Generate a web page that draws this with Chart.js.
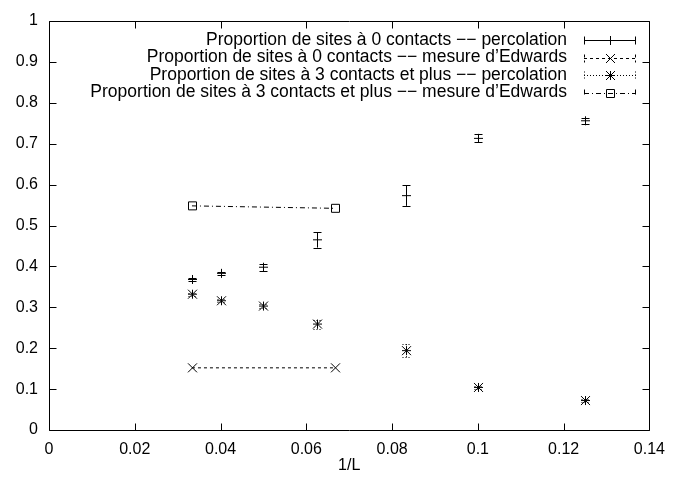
<!DOCTYPE html>
<html>
<head>
<meta charset="utf-8">
<script src="https://cdn.jsdelivr.net/npm/chart.js@4/dist/chart.umd.min.js"></script>
<style>
html,body{margin:0;padding:0;background:#fff;}
</style>
</head>
<body>
<canvas id="chart" width="675" height="481"></canvas>
<script>
// 1/L values
var xL = [1/30, 1/25, 1/20, 1/16, 1/12, 1/10, 1/8];
var perc0 = [0.368, 0.383, 0.398, 0.465, 0.573, 0.713, 0.756];
var perc0Err = [0.004, 0.004, 0.009, 0.019, 0.025, 0.010, 0.008];
var perc3 = [0.332, 0.316, 0.303, 0.259, 0.194, 0.104, 0.072];
var perc3Err = [0.004, 0.004, 0.004, 0.011, 0.016, 0.004, 0.004];
var edwX = [1/30, 1/15];
var edw0 = [0.152, 0.152];
var edw3 = [0.548, 0.542];
var xTicks = [0, 0.02, 0.04, 0.06, 0.08, 0.1, 0.12, 0.14];
var yTicks = [0, 0.1, 0.2, 0.3, 0.4, 0.5, 0.6, 0.7, 0.8, 0.9, 1];
var labels = [
  "Proportion de sites à 0 contacts −− percolation",
  "Proportion de sites à 0 contacts −− mesure d’Edwards",
  "Proportion de sites à 3 contacts et plus −− percolation",
  "Proportion de sites à 3 contacts et plus −− mesure d’Edwards"
];

function pts(xs, ys){
  return xs.map(function(x, i){ return {x: x, y: ys[i]}; });
}

var DOT = [1, 2], DASH = [3, 3], DASHDOT = [5, 3, 1, 3];

// draw a gnuplot like marker
function marker(ctx, kind, x, y){
  ctx.save();
  ctx.setLineDash([]);
  ctx.lineWidth = 1;
  ctx.strokeStyle = '#000';
  ctx.beginPath();
  if(kind == 'plus' || kind == 'star'){
    ctx.moveTo(x-4.5, y); ctx.lineTo(x+4.5, y);
    ctx.moveTo(x, y-4.5); ctx.lineTo(x, y+4.5);
  }
  if(kind == 'cross' || kind == 'star'){
    ctx.moveTo(x-4.5, y-4.5); ctx.lineTo(x+4.5, y+4.5);
    ctx.moveTo(x-4.5, y+4.5); ctx.lineTo(x+4.5, y-4.5);
  }
  if(kind == 'square'){
    ctx.rect(x-4, y-4, 8, 8);
  }
  ctx.stroke();
  ctx.restore();
}

var errBars = {
  id: 'errBars',
  afterDatasetsDraw: function(chart){
    var ctx = chart.ctx, xs = chart.scales.x, ys = chart.scales.y;
    chart.data.datasets.forEach(function(ds){
      ctx.save();
      ctx.strokeStyle = '#000';
      ctx.lineWidth = 1;
      ds.data.forEach(function(p, j){
        var x = Math.round(xs.getPixelForValue(p.x)) + 0.5;
        var y = ys.getPixelForValue(p.y);
        if(ds.errors){
          var y1 = ys.getPixelForValue(p.y - ds.errors[j]);
          var y2 = ys.getPixelForValue(p.y + ds.errors[j]);
          ctx.setLineDash(ds.errDash || []);
          ctx.beginPath();
          ctx.moveTo(x, y1); ctx.lineTo(x, y2);
          ctx.moveTo(x-4, Math.round(y1)+0.5); ctx.lineTo(x+4, Math.round(y1)+0.5);
          ctx.moveTo(x-4, Math.round(y2)+0.5); ctx.lineTo(x+4, Math.round(y2)+0.5);
          ctx.stroke();
        }
        marker(ctx, ds.mark, x, y);
      });
      ctx.restore();
    });
  }
};

var frame = {
  id: 'frame',
  afterDraw: function(chart){
    var ctx = chart.ctx, a = chart.chartArea, xs = chart.scales.x, ys = chart.scales.y;
    var l = Math.round(a.left)+0.5, r = Math.round(a.right)+0.5, t = Math.round(a.top)+0.5, b = Math.round(a.bottom)+0.5;
    ctx.save();
    ctx.strokeStyle = '#000';
    ctx.lineWidth = 1;
    ctx.setLineDash([]);
    ctx.beginPath();
    ctx.rect(l, t, r-l, b-t);
    xTicks.forEach(function(v){
      var x = Math.round(xs.getPixelForValue(v))+0.5;
      ctx.moveTo(x, b); ctx.lineTo(x, b-7);
      ctx.moveTo(x, t); ctx.lineTo(x, t+7);
    });
    yTicks.forEach(function(v){
      var y = Math.round(ys.getPixelForValue(v))+0.5;
      ctx.moveTo(l, y); ctx.lineTo(l+7, y);
      ctx.moveTo(r, y); ctx.lineTo(r-7, y);
    });
    ctx.stroke();

    // legend, gnuplot style: text right aligned, sample on the right
    ctx.font = '17.5px "Liberation Sans", Arial, sans-serif';
    ctx.fillStyle = '#000';
    ctx.textAlign = 'right';
    ctx.textBaseline = 'middle';
    chart.data.datasets.forEach(function(ds, i){
      var y = 40 + i*17.5;
      ctx.fillText(ds.label, 567, y);
      var yy = Math.round(y)+0.5;
      ctx.setLineDash(ds.legDash || []);
      ctx.beginPath();
      ctx.moveTo(584, yy); ctx.lineTo(636, yy);
      ctx.moveTo(584.5, yy-4); ctx.lineTo(584.5, yy+4);
      ctx.moveTo(635.5, yy-4); ctx.lineTo(635.5, yy+4);
      ctx.stroke();
      marker(ctx, ds.mark, 610.5, yy);
    });
    ctx.restore();
  }
};

var myChart = new Chart(document.getElementById('chart'), {
  type: 'scatter',
  data: {
    datasets: [
      {label: labels[0], data: pts(xL, perc0), errors: perc0Err, mark: 'plus', legDash: [],
       pointRadius: 0, showLine: false},
      {label: labels[1], data: pts(edwX, edw0), mark: 'cross', legDash: DASH,
       pointRadius: 0, showLine: true, borderColor: '#000', borderWidth: 1, borderDash: DASH},
      {label: labels[2], data: pts(xL, perc3), errors: perc3Err, errDash: DOT, mark: 'star', legDash: DOT,
       pointRadius: 0, showLine: false},
      {label: labels[3], data: pts(edwX, edw3), mark: 'square', legDash: DASHDOT,
       pointRadius: 0, showLine: true, borderColor: '#000', borderWidth: 1, borderDash: DASHDOT}
    ]
  },
  options: {
    responsive: false,
    animation: false,
    devicePixelRatio: 1,
    layout: {padding: {top: 21, right: 20, left: 0, bottom: 0}},
    plugins: {legend: {display: false}, tooltip: {enabled: false}},
    scales: {
      x: {
        type: 'linear', min: 0, max: 0.14,
        afterBuildTicks: function(s){ s.ticks = xTicks.map(function(v){ return {value: v}; }); },
        afterFit: function(s){ s.height = 51; },
        grid: {display: false, drawTicks: false},
        border: {display: false},
        ticks: {padding: 10, color: '#000', font: {size: 16}, callback: function(v){ return String(v); }},
        title: {display: true, text: '1/L', color: '#000', font: {size: 16}, padding: {top: 0, bottom: 6}}
      },
      y: {
        type: 'linear', min: 0, max: 1,
        afterBuildTicks: function(s){ s.ticks = yTicks.map(function(v){ return {value: v}; }); },
        afterFit: function(s){ s.width = 49; },
        grid: {display: false, drawTicks: false},
        border: {display: false},
        ticks: {padding: 11, color: '#000', font: {size: 16}, callback: function(v){ return String(v); }}
      }
    }
  },
  plugins: [errBars, frame]
});
</script>
</body>
</html>
